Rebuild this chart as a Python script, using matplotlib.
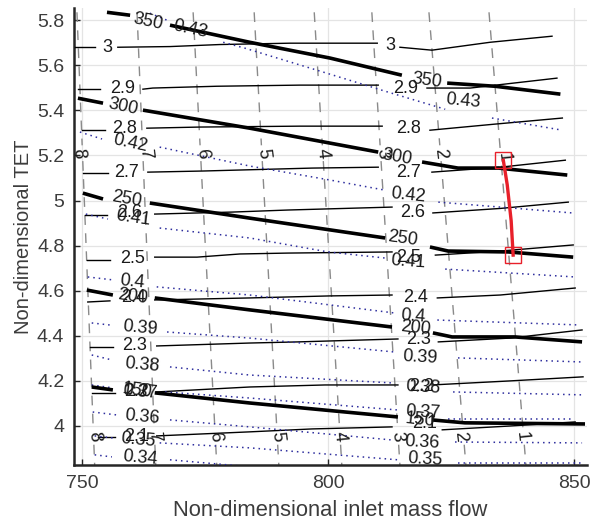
import numpy as np
import matplotlib
matplotlib.use("Agg")
import matplotlib.pyplot as plt

plt.rcParams["font.family"] = ["Liberation Sans", "DejaVu Sans"]

# ── data ──────────────────────────────────────────────────
X_TICKS = [750, 800, 850]
Y_TICKS = [4.0, 4.2, 4.4, 4.6, 4.8, 5.0, 5.2, 5.4, 5.6, 5.8]
Y_TICK_LABELS = ["4", "4.2", "4.4", "4.6", "4.8", "5", "5.2", "5.4", "5.6", "5.8"]

# thin solid contours, each level = pieces between its inline labels
PR_LINES = {
    "3":   [[(748.6, 5.680), (752.6, 5.680)],
            [(757.3, 5.680), (767.9, 5.683), (778.0, 5.692), (792.3, 5.698), (810.0, 5.698)],
            [(814.6, 5.680), (821.1, 5.667), (832.9, 5.702), (845.5, 5.729)]],
    "2.9": [[(749.2, 5.494), (753.7, 5.494)],
            [(762.4, 5.494), (764.4, 5.499), (777.4, 5.507), (794.3, 5.512), (810.2, 5.512)],
            [(820.1, 5.499), (828.9, 5.499), (846.5, 5.543)]],
    "2.8": [[(750.0, 5.312), (754.7, 5.312)],
            [(763.2, 5.321), (774.0, 5.326), (794.3, 5.330), (811.0, 5.330)],
            [(820.7, 5.312), (833.9, 5.339), (847.6, 5.366)]],
    "2.7": [[(750.2, 5.122), (755.3, 5.122)],
            [(763.4, 5.126), (774.6, 5.131), (796.8, 5.144), (810.2, 5.148)],
            [(821.1, 5.126), (835.0, 5.148), (848.2, 5.179)]],
    "2.6": [[(750.6, 4.936), (755.1, 4.936)],
            [(764.8, 4.940), (780.7, 4.949), (791.9, 4.958), (813.0, 4.971)],
            [(821.3, 4.945), (835.0, 4.965), (848.8, 4.993)]],
    "2.5": [[(751.0, 4.736), (755.7, 4.736)],
            [(764.8, 4.749), (773.4, 4.749), (782.1, 4.763), (791.9, 4.767), (813.0, 4.772)],
            [(821.8, 4.758), (835.0, 4.776), (849.8, 4.803)]],
    "2.4": [[(751.2, 4.550), (755.7, 4.555)],
            [(764.8, 4.559), (784.1, 4.568), (800.4, 4.577), (813.0, 4.581)],
            [(822.2, 4.568), (835.0, 4.581), (850.2, 4.612)]],
    "2.3": [[(751.6, 4.350), (756.3, 4.350)],
            [(765.2, 4.355), (784.1, 4.368), (793.9, 4.373), (814.2, 4.386)],
            [(822.4, 4.373), (837.0, 4.390), (851.6, 4.426)]],
    "2.2": [[(752.0, 4.147), (756.7, 4.147)],
            [(765.2, 4.151), (784.1, 4.173), (799.4, 4.182), (814.2, 4.182)],
            [(821.1, 4.182), (837.0, 4.200), (851.8, 4.218)]],
    "2.1": [[(753.3, 3.952), (756.7, 3.952)],
            [(765.2, 3.956), (784.1, 3.974), (796.8, 3.987), (813.0, 3.996)],
            [(823.2, 3.983), (837.0, 4.000), (850.2, 4.018)]],
}
PR_LABELS = [
    ("3", 755.1, 5.680, 0), ("3", 812.6, 5.689, 0),
    ("2.9", 758.3, 5.499, 0), ("2.9", 815.7, 5.499, 0),
    ("2.8", 758.7, 5.321, 0), ("2.8", 816.3, 5.321, 0),
    ("2.7", 759.1, 5.126, 0), ("2.7", 816.3, 5.126, 0),
    ("2.6", 759.8, 4.945, 0), ("2.6", 817.1, 4.945, 0),
    ("2.5", 760.2, 4.745, 0), ("2.5", 816.3, 4.749, 0),
    ("2.4", 760.4, 4.568, 0), ("2.4", 817.7, 4.572, 0),
    ("2.3", 760.8, 4.359, 0), ("2.3", 818.3, 4.382, 0),
    ("2.2", 761.2, 4.151, 0), ("2.2", 819.1, 4.173, 0),
    ("2.1", 761.2, 3.952, 0), ("2.1", 819.7, 4.009, 0),
]

# thick solid contours
T_LINES = {
    "350": [[(755.1, 5.835), (759.8, 5.822)],
            [(767.9, 5.778), (784.1, 5.702), (800.4, 5.632), (815.0, 5.556)],
            [(824.2, 5.521), (833.9, 5.507), (847.2, 5.472)]],
    "300": [[(749.2, 5.454), (754.3, 5.432)],
            [(762.4, 5.401), (784.1, 5.321), (810.2, 5.215)],
            [(819.1, 5.171), (826.4, 5.144), (834.6, 5.144), (848.6, 5.113)]],
    "250": [[(750.2, 5.033), (754.3, 5.007)],
            [(763.8, 4.989), (784.1, 4.922), (811.6, 4.834)],
            [(820.7, 4.794), (824.4, 4.776), (836.6, 4.772), (849.8, 4.749)]],
    "200": [[(751.0, 4.603), (756.3, 4.581)],
            [(764.8, 4.568), (784.1, 4.515), (813.0, 4.439)],
            [(821.3, 4.413), (825.2, 4.395), (838.0, 4.395), (851.6, 4.373)]],
    "150": [[(752.0, 4.173), (756.3, 4.160)],
            [(764.8, 4.147), (784.1, 4.102), (814.2, 4.040)],
            [(821.1, 4.027), (827.8, 4.014), (852.2, 4.009)]],
}
T_LABELS = [
    ("350", 763.4, 5.791, -12), ("350", 820.1, 5.530, -8),
    ("300", 758.3, 5.414, -12), ("300", 814.0, 5.194, -10),
    ("250", 759.1, 5.007, -10), ("250", 815.2, 4.830, -8),
    ("200", 760.4, 4.575, -8), ("200", 817.7, 4.435, -6),
    ("150", 761.2, 4.155, -8), ("150", 818.7, 4.027, -6),
]

# dotted blue contours
E_LINES = {
    "0.43": [[(763.8, 5.831), (767.3, 5.800)],
             [(778.7, 5.702), (783.1, 5.676), (797.8, 5.578), (812.2, 5.481), (823.8, 5.405)],
             [(833.3, 5.366), (847.6, 5.312)]],
    "0.42": [[(749.6, 5.304), (754.1, 5.273)],
             [(765.8, 5.237), (784.1, 5.153), (800.4, 5.091), (811.6, 5.046)],
             [(822.4, 4.993), (835.0, 4.971), (849.6, 4.945)]],
    "0.41": [[(750.8, 4.940), (755.3, 4.918)],
             [(765.8, 4.878), (784.1, 4.834), (800.0, 4.772), (811.6, 4.745)],
             [(823.8, 4.696), (850.2, 4.661)]],
    "0.4":  [[(751.2, 4.661), (756.3, 4.648)],
             [(765.2, 4.617), (784.1, 4.581), (800.4, 4.537), (813.6, 4.501)],
             [(822.2, 4.470), (851.2, 4.448)]],
    "0.39": [[(752.0, 4.457), (755.7, 4.448)],
             [(767.3, 4.417), (784.1, 4.390), (813.6, 4.328)],
             [(826.4, 4.302), (851.6, 4.284)]],
    "0.38": [[(752.0, 4.315), (756.1, 4.293)],
             [(767.9, 4.262), (784.1, 4.226), (813.0, 4.191)],
             [(825.4, 4.151), (851.8, 4.138)]],
    "0.37": [[(752.0, 4.182), (756.3, 4.169)],
             [(766.9, 4.151), (784.1, 4.124), (814.2, 4.071)],
             [(824.4, 4.031), (849.6, 4.031)]],
    "0.36": [[(752.2, 4.062), (757.1, 4.049)],
             [(767.9, 4.027), (784.1, 3.996), (813.0, 3.938)],
             [(825.8, 3.929), (851.6, 3.925)]],
    "0.35": [[(752.6, 3.956), (756.3, 3.947)],
             [(765.8, 3.925), (784.1, 3.903), (814.2, 3.850)],
             [(826.4, 3.836), (851.6, 3.836)]],
    "0.34": [[(752.6, 3.872), (756.1, 3.863)],
             [(767.9, 3.850), (784.1, 3.819), (792.3, 3.814)]],
}
E_LABELS = [
    ("0.43", 772.0, 5.760, -12), ("0.43", 827.4, 5.440, -5),
    ("0.42", 759.8, 5.255, -12), ("0.42", 816.3, 5.024, -6),
    ("0.41", 760.4, 4.922, -8), ("0.41", 816.3, 4.727, -4),
    ("0.4", 760.2, 4.639, -6), ("0.4", 817.3, 4.484, -4),
    ("0.39", 761.8, 4.435, -5), ("0.39", 818.7, 4.306, -3),
    ("0.38", 762.2, 4.271, -5), ("0.38", 819.3, 4.173, -3),
    ("0.37", 761.8, 4.151, -5), ("0.37", 819.3, 4.058, -3),
    ("0.36", 762.2, 4.040, -5), ("0.36", 819.1, 3.929, -3),
    ("0.35", 761.4, 3.938, -5), ("0.35", 819.7, 3.850, -3),
    ("0.34", 761.8, 3.859, -5),
]

# dashed grey contours: (top end, bottom end)
D_LINES = {
    "8": [(749.0, 5.835), (752.6, 3.827)],
    "7": [(761.2, 5.835), (765.0, 3.827)],
    "6": [(772.6, 5.835), (777.4, 3.827)],
    "5": [(785.0, 5.835), (790.0, 3.827)],
    "4": [(797.2, 5.835), (802.8, 3.827)],
    "3": [(808.9, 5.835), (814.6, 3.827)],
    "2": [(820.5, 5.835), (828.0, 3.827)],
    "1": [(832.7, 5.835), (840.2, 3.827)],
}
D_LABELS = [
    ("8", 749.2, 5.210), ("8", 752.6, 3.952),
    ("7", 762.8, 5.210), ("7", 764.6, 3.952),
    ("6", 774.4, 5.210), ("6", 777.0, 3.952),
    ("5", 786.8, 5.210), ("5", 789.6, 3.952),
    ("4", 799.0, 5.210), ("4", 802.4, 3.952),
    ("3", 811.0, 5.210), ("3", 814.0, 3.952),
    ("2", 822.8, 5.210), ("2", 826.8, 3.952),
    ("1", 835.6, 5.190), ("1", 839.4, 3.952),
]

# red operating line
RED_X = [835.6, 836.4, 837.2, 837.6]
RED_Y = [5.179, 5.070, 4.910, 4.758]

# ── plot ──────────────────────────────────────────────────
fig = plt.figure(figsize=(5.91, 5.25), dpi=100)
ax = fig.add_axes([0.1252, 0.1143, 0.868, 0.870])

LBL = dict(ha="center", va="center", fontsize=13, color="#1a1a1a",
           rotation_mode="anchor", zorder=6)

for pieces in PR_LINES.values():
    for seg in pieces:
        xs, ys = zip(*seg)
        ax.plot(xs, ys, color="black", lw=1.0, zorder=3)

for pieces in T_LINES.values():
    for seg in pieces:
        xs, ys = zip(*seg)
        ax.plot(xs, ys, color="black", lw=2.6, solid_capstyle="butt", zorder=4)

for pieces in E_LINES.values():
    for seg in pieces:
        xs, ys = zip(*seg)
        ax.plot(xs, ys, color="#2e2e9e", lw=1.1, ls=(0, (1, 2.6)), zorder=3)

# dashed lines broken where their labels sit
for lvl, (top, bot) in D_LINES.items():
    cuts = sorted([y for t, x, y in D_LABELS if t == lvl], reverse=True)
    edges = [top[1]] + [v for y in cuts for v in (y + 0.035, y - 0.035)] + [bot[1]]
    for y0, y1 in zip(edges[::2], edges[1::2]):
        x0 = np.interp(y0, [bot[1], top[1]], [bot[0], top[0]])
        x1 = np.interp(y1, [bot[1], top[1]], [bot[0], top[0]])
        ax.plot([x0, x1], [y0, y1], color="#8a8a8a", lw=1.0,
                ls=(0, (7, 6)), zorder=2)

for t, x, y, r in PR_LABELS + T_LABELS + E_LABELS:
    ax.text(x, y, t, rotation=r, **LBL)
for t, x, y in D_LABELS:
    ax.text(x, y, t, rotation=-84, **LBL)

ax.plot(RED_X, RED_Y, color="#e8202a", lw=2.4, zorder=7)
ax.plot([RED_X[0], RED_X[-1]], [RED_Y[0], RED_Y[-1]], ls="none", marker="s",
        ms=11.5, mfc="none", mec="#e8202a", mew=1.0, zorder=8)

ax.set_xlim(748.4, 852.6)
ax.set_ylim(3.827, 5.853)
ax.set_xticks(X_TICKS)
ax.set_yticks(Y_TICKS)
ax.set_yticklabels(Y_TICK_LABELS)
ax.grid(True, color="#e4e4e4", lw=0.9)
ax.set_axisbelow(True)
for s in ("top", "right"):
    ax.spines[s].set_visible(False)
for s in ("left", "bottom"):
    ax.spines[s].set_linewidth(1.8)
    ax.spines[s].set_color("#262626")
ax.tick_params(direction="in", length=4, width=1, colors="#262626",
               labelcolor="#3c3c3c", labelsize=14, pad=7)

ax.set_xlabel("Non-dimensional inlet mass flow", fontsize=15.8, color="#3c3c3c",
              labelpad=6)
ax.set_ylabel("Non-dimensional TET", fontsize=14.5, color="#3c3c3c", labelpad=3)

fig.savefig("out.png", dpi=100)
